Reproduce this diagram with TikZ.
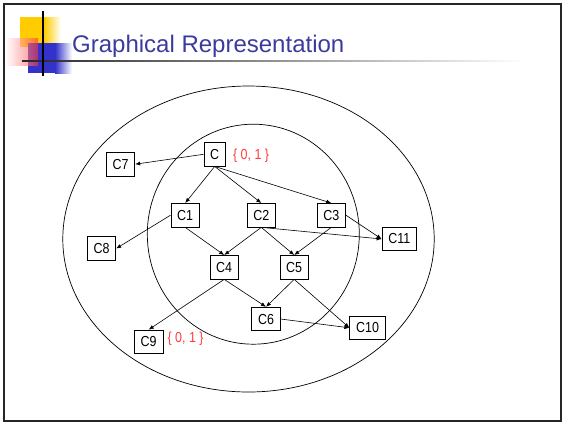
\documentclass[tikz,border=0pt]{standalone}
\usepackage{fontspec}
\setmainfont{Liberation Sans}
\newfontfamily\clsfont[FakeStretch=0.86]{Liberation Sans}
\usetikzlibrary{arrows.meta, positioning}
\definecolor{titleblue}{HTML}{3B3B9E}
\definecolor{sqyellow}{HTML}{FFCC00}
\definecolor{sqblue}{HTML}{3333CC}
\definecolor{sqred}{HTML}{FF3333}
\definecolor{setred}{HTML}{FF3B3B}

\begin{document}
\begin{tikzpicture}[x=1pt, y=-1pt,
  font=\clsfont\fontsize{14.5}{17}\selectfont,
  cls/.style={draw=black, fill=white, line width=0.8pt, inner xsep=6.3pt,
              inner ysep=2pt, minimum height=23.5pt},
  setlbl/.style={text=setred, inner sep=1pt},
  ar/.style={-{Latex[length=5pt, width=4pt]}, line width=0.6pt},
  ring/.style={draw=black, line width=0.7pt}]
\useasboundingbox (0,0) rectangle (564,424);
\draw[line width=2pt, black!85] (4,4) rectangle (561,421);

% title decoration
\fill[sqyellow] (20,17) rectangle (44,47);
\shade[left color=sqyellow, right color=white] (44,17) rectangle (61,47);
\fill[sqblue] (28,43) rectangle (55,73);
\shade[left color=sqblue, right color=white] (55,43) rectangle (72,73);
\shade[left color=white, right color=sqred, opacity=0.6] (5,38) rectangle (38,65);
\shade[left color=black!85, right color=white] (22,60.2) rectangle (525,61.8);
\draw[line width=1.6pt] (43,11) -- (43,76);
\node[anchor=base west, inner sep=0pt, text=titleblue,
      font=\rmfamily\fontsize{24}{28}\selectfont] (title) at (72,52) {Graphical Representation};

% sets
\draw[ring] (248.5,239) ellipse [x radius=185.7, y radius=153];
\draw[ring] (253.3,234.2) ellipse [x radius=106, y radius=110];

% classes
\node[cls] (c)   at (214.7,154.3) {C};
\node[cls] (c7)  at (120.5,164.2) {C7};
\node[cls] (c1)  at (185.2,215.2) {C1};
\node[cls] (c2)  at (261.3,215.2) {C2};
\node[cls] (c3)  at (331.3,215.2) {C3};
\node[cls] (c11) at (399.3,239)   {C11};
\node[cls] (c8)  at (101.5,248.5) {C8};
\node[cls] (c4)  at (224.2,267.2) {C4};
\node[cls] (c5)  at (294.2,267.2) {C5};
\node[cls] (c6)  at (266,319)     {C6};
\node[cls] (c10) at (367.5,327.8) {C10};
\node[cls] (c9)  at (148.7,341.8) {C9};
\node[setlbl, right=6pt of c, yshift=-1pt] (lc) {\{ 0, 1 \}};
\node[setlbl, right=3pt of c9, yshift=3pt] (lc9) {\{ 0, 1 \}};

\draw[ar] (c.west) -- (c7.east);
\draw[ar] (c.south) -- (c1.north);
\draw[ar] (c.south) -- (c2.north);
\draw[ar] (c.south) -- (c3.north);
\draw[ar] (c1.west) -- (c8.east);
\draw[ar] (c1.south) -- (c4.north);
\draw[ar] (c2.south) -- (c4.north);
\draw[ar] (c2.south) -- (c5.north);
\draw[ar] (c2.south) -- (c11.west);
\draw[ar] (c3.east) -- (c11.west);
\draw[ar] (c3.south) -- (c5.north);
\draw[ar] (c4.south) -- (c9.north);
\draw[ar] (c4.south) -- (c6.north);
\draw[ar] (c5.south) -- (c6.north);
\draw[ar] (c5.south) -- (c10.west);
\draw[ar] (c6.east) -- (c10.west);
\end{tikzpicture}
\end{document}
